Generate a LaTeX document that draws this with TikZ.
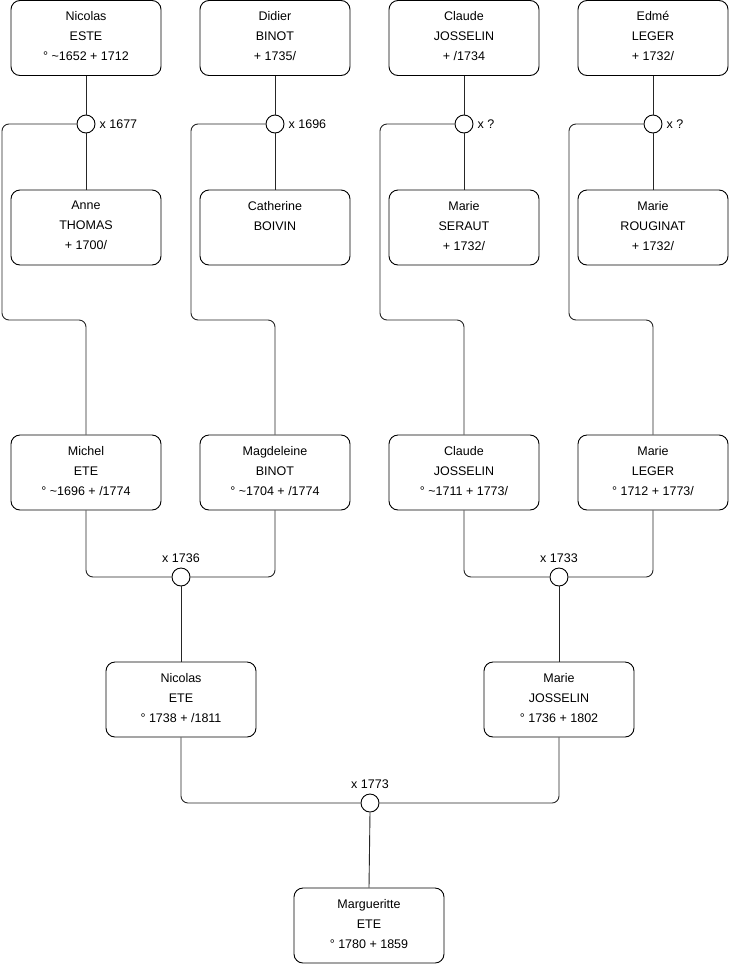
\documentclass[tikz,border=0pt]{standalone}
\usepackage{fontspec}
\setmainfont{Liberation Sans}
\begin{document}
\begin{tikzpicture}[x=1pt,y=-1pt,
  person/.style={draw=black, line width=0.9pt, rounded corners=9pt, minimum width=150pt, minimum height=75pt, align=center, font=\fontsize{12.5}{20}\selectfont, inner sep=0pt, text depth=4pt},
  wed/.style={draw=black, fill=white, line width=0.9pt, circle, minimum size=18pt, inner sep=0pt},
  conn/.style={draw=black!85, line width=0.9pt, rounded corners=7pt},
  wlab/.style={font=\fontsize{12.5}{14}\selectfont, inner sep=0pt}]
\useasboundingbox (0,0) rectangle (740,975);
% top row
\node[person] (p1) at (86,38) {Nicolas\\ESTE\\° \textasciitilde1652 + 1712};
\node[person] (p2) at (275,38) {Didier\\BINOT\\+ 1735/};
\node[person] (p3) at (464,38) {Claude\\JOSSELIN\\+ /1734};
\node[person] (p4) at (653,38) {Edmé\\LEGER\\+ 1732/};
% second row
\node[person] (s1) at (86,227.5) {Anne\\THOMAS\\+ 1700/};
\node[person] (s2) at (275,227.5) {Catherine\\BOIVIN\\\mbox{}};
\node[person] (s3) at (464,227.5) {Marie\\SERAUT\\+ 1732/};
\node[person] (s4) at (653,227.5) {Marie\\ROUGINAT\\+ 1732/};
% third row
\node[person] (c1) at (86,472.5) {Michel\\ETE\\° \textasciitilde1696 + /1774};
\node[person] (c2) at (275,472.5) {Magdeleine\\BINOT\\° \textasciitilde1704 + /1774};
\node[person] (c3) at (464,472.5) {Claude\\JOSSELIN\\° \textasciitilde1711 + 1773/};
\node[person] (c4) at (653,472.5) {Marie\\LEGER\\° 1712 + 1773/};
% fourth row
\node[person] (g1) at (181,699.5) {Nicolas\\ETE\\° 1738 + /1811};
\node[person] (g2) at (559,699.5) {Marie\\JOSSELIN\\° 1736 + 1802};
% bottom
\node[person] (f) at (369,925.5) {Margueritte\\ETE\\° 1780 + 1859};
% marriages
\node[wed] (m1) at (86,124) {};
\node[wed] (m2) at (275,124) {};
\node[wed] (m3) at (464,124) {};
\node[wed] (m4) at (653,124) {};
\node[wed] (m5) at (181,577) {};
\node[wed] (m6) at (559,577) {};
\node[wed] (m7) at (370,803) {};
\node[wlab, anchor=west] (l1) at ([xshift=4pt]m1.east) {x 1677};
\node[wlab, anchor=west] (l2) at ([xshift=4pt]m2.east) {x 1696};
\node[wlab, anchor=west] (l3) at ([xshift=4pt]m3.east) {x ?};
\node[wlab, anchor=west] (l4) at ([xshift=4pt]m4.east) {x ?};
\node[wlab, anchor=south] (l5) at ([yshift=5pt]m5.north) {x 1736};
\node[wlab, anchor=south] (l6) at ([yshift=5pt]m6.north) {x 1733};
\node[wlab, anchor=south] (l7) at ([yshift=5pt]m7.north) {x 1773};
% corner coordinates
\coordinate (k1) at (2,320);
\coordinate (k2) at (191,320);
\coordinate (k3) at (380,320);
\coordinate (k4) at (569,320);
% couples top
\draw[conn] (p1.south) -- (m1.north);
\draw[conn] (m1.south) -- (s1.north);
\draw[conn] (p2.south) -- (m2.north);
\draw[conn] (m2.south) -- (s2.north);
\draw[conn] (p3.south) -- (m3.north);
\draw[conn] (m3.south) -- (s3.north);
\draw[conn] (p4.south) -- (m4.north);
\draw[conn] (m4.south) -- (s4.north);
% descent
\draw[conn] (m1.west) -| (k1) -| (c1.north);
\draw[conn] (m2.west) -| (k2) -| (c2.north);
\draw[conn] (m3.west) -| (k3) -| (c3.north);
\draw[conn] (m4.west) -| (k4) -| (c4.north);
% lower marriages
\draw[conn] (c1.south) |- (m5.west);
\draw[conn] (c2.south) |- (m5.east);
\draw[conn] (m5.south) -- (g1.north);
\draw[conn] (c3.south) |- (m6.west);
\draw[conn] (c4.south) |- (m6.east);
\draw[conn] (m6.south) -- (g2.north);
\draw[conn] (g1.south) |- (m7.west);
\draw[conn] (g2.south) |- (m7.east);
\draw[conn] (m7.south) -- (f.north);
\end{tikzpicture}
\end{document}
